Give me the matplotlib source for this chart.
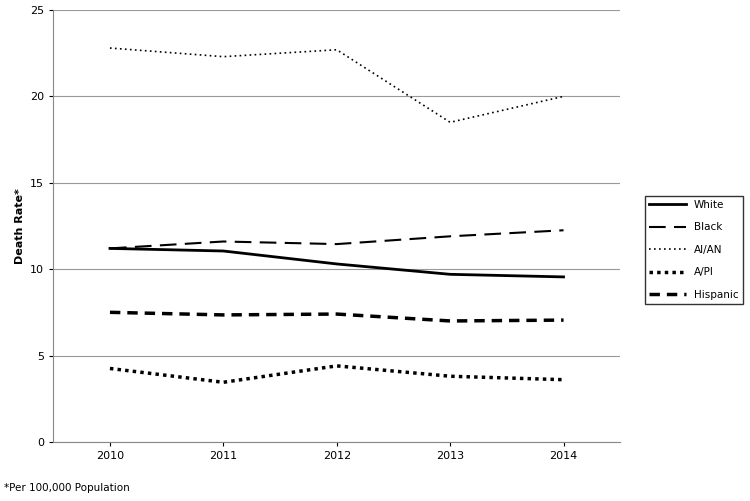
import matplotlib
matplotlib.use("Agg")
import matplotlib.pyplot as plt

years = ["2010", "2011", "2012", "2013", "2014"]
white = [11.2, 11.05, 10.3, 9.7, 9.55]
black = [11.2, 11.6, 11.45, 11.9, 12.25]
aian = [22.8, 22.3, 22.7, 18.5, 20.0]
api = [4.25, 3.45, 4.4, 3.8, 3.6]
hispanic = [7.5, 7.35, 7.4, 7.0, 7.05]

fig = plt.figure(figsize=(7.5, 5.01), dpi=100)
ax = fig.add_axes([0.071, 0.118, 0.756, 0.862])
x = range(len(years))
ax.plot(x, white, color="black", lw=2, ls="-", label="White")
ax.plot(x, black, color="black", lw=1.5, ls=(0, (8, 4)), label="Black")
ax.plot(x, aian, color="black", lw=1.2, ls=(0, (1, 2)), label="AI/AN")
ax.plot(x, api, color="black", lw=2.5, ls=(0, (1, 1.2)), label="A/PI")
ax.plot(x, hispanic, color="black", lw=2.5, ls=(0, (3, 2)), label="Hispanic")

ax.set_xlim(-0.5, 4.5)
ax.set_ylim(0, 25)
ax.set_yticks([0, 5, 10, 15, 20, 25])
ax.set_xticks(list(x))
ax.set_xticklabels(years)
ax.tick_params(labelsize=8, length=3)
ax.yaxis.grid(True, color="#999999", lw=0.8)
ax.set_axisbelow(True)
for s in ["top", "right"]:
    ax.spines[s].set_visible(False)
ax.spines["left"].set_color("#888888")
ax.spines["bottom"].set_color("#888888")
ax.set_ylabel("Death Rate*", fontsize=8, fontweight="bold")
fig.legend(loc="upper left", bbox_to_anchor=(0.853, 0.62), fontsize=7.5,
           frameon=True, fancybox=False, edgecolor="black", handlelength=3.5,
           labelspacing=1.2)
fig.text(0.005, 0.02, "*Per 100,000 Population", fontsize=7.5)
fig.savefig("out.png", dpi=100)
